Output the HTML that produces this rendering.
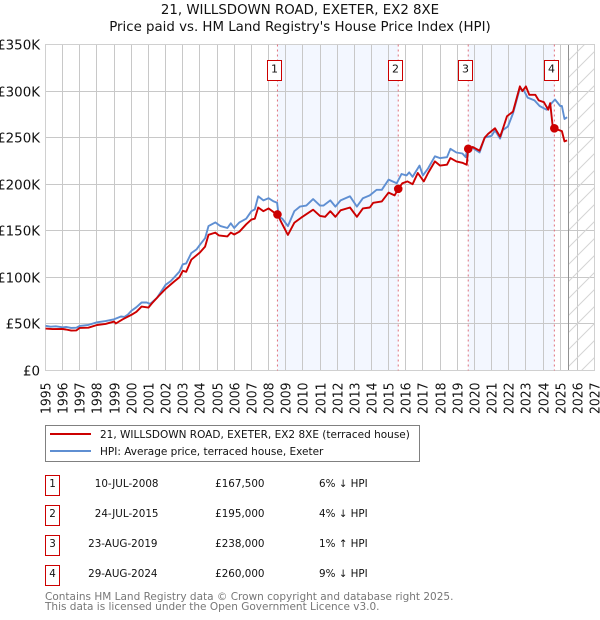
<!DOCTYPE html>
<html>
<head>
<meta charset="utf-8">
<style>
html,body{margin:0;padding:0;background:#fff;width:600px;height:620px;overflow:hidden}
svg{display:block;font-family:"DejaVu Sans","Liberation Sans",sans-serif}
</style>
</head>
<body>
<svg id="chart" width="600" height="620" viewBox="0 0 600 620" xmlns="http://www.w3.org/2000/svg">
<defs>
<pattern id="hatch" patternUnits="userSpaceOnUse" width="17" height="17">
<path d="M-1 18L18 -1M-1 1L1 -1M16 18L18 16" stroke="#d4d4d4" stroke-width="1" fill="none"/>
</pattern>
</defs>
<text x="300" y="14" text-anchor="middle" font-size="13.35" fill="#111">21, WILLSDOWN ROAD, EXETER, EX2 8XE</text>
<text x="300" y="31" text-anchor="middle" font-size="13.35" fill="#111">Price paid vs. HM Land Registry's House Price Index (HPI)</text>
<g id="bands"></g>
<g id="grid"></g>
<rect id="forecast" fill="url(#hatch)"></rect>
<line id="forecastEdge" stroke="#909090" stroke-width="1"></line>
<rect x="45.5" y="44.5" width="549" height="326" fill="none" stroke="#d0d0d0" stroke-width="1"></rect>
<g id="ticks"></g>
<g id="saleLines"></g>
<path id="hpiLine" fill="none" stroke="#5f8fd2" stroke-width="1.9" stroke-linejoin="round"></path>
<path id="priceLine" fill="none" stroke="#cc0000" stroke-width="1.9" stroke-linejoin="round"></path>
<g id="saleDots"></g>
<g id="saleBoxes"></g>

<g>
<rect x="45.5" y="425.5" width="374" height="36" fill="#fff" stroke="#808080" stroke-width="1"></rect>
<line x1="50" x2="91" y1="434" y2="434" stroke="#cc0000" stroke-width="2"></line>
<text x="100" y="438" font-size="10.5" fill="#111">21, WILLSDOWN ROAD, EXETER, EX2 8XE (terraced house)</text>
<line x1="50" x2="91" y1="451" y2="451" stroke="#5f8fd2" stroke-width="2"></line>
<text x="100" y="455" font-size="10.5" fill="#111">HPI: Average price, terraced house, Exeter</text>
</g>

<g font-size="10.35" fill="#111">
<g>
<rect x="45.5" y="475.5" width="14" height="20" fill="#fff" stroke="#cc0000" stroke-width="1"></rect>
<text x="52.5" y="487" text-anchor="middle">1</text>
<text x="158.5" y="487" text-anchor="end">10-JUL-2008</text>
<text x="264.5" y="487" text-anchor="end">£167,500</text>
<text x="319" y="487">6% ↓ HPI</text>
</g>
<g>
<rect x="45.5" y="505.5" width="14" height="20" fill="#fff" stroke="#cc0000" stroke-width="1"></rect>
<text x="52.5" y="517" text-anchor="middle">2</text>
<text x="158.5" y="517" text-anchor="end">24-JUL-2015</text>
<text x="264.5" y="517" text-anchor="end">£195,000</text>
<text x="319" y="517">4% ↓ HPI</text>
</g>
<g>
<rect x="45.5" y="535.5" width="14" height="20" fill="#fff" stroke="#cc0000" stroke-width="1"></rect>
<text x="52.5" y="547" text-anchor="middle">3</text>
<text x="157.5" y="547" text-anchor="end">23-AUG-2019</text>
<text x="264.5" y="547" text-anchor="end">£238,000</text>
<text x="319" y="547">1% ↑ HPI</text>
</g>
<g>
<rect x="45.5" y="565.5" width="14" height="20" fill="#fff" stroke="#cc0000" stroke-width="1"></rect>
<text x="52.5" y="577" text-anchor="middle">4</text>
<text x="157.5" y="577" text-anchor="end">29-AUG-2024</text>
<text x="264.5" y="577" text-anchor="end">£260,000</text>
<text x="319" y="577">9% ↓ HPI</text>
</g>
</g>

<text x="45" y="600" font-size="10.5" fill="#777">Contains HM Land Registry data © Crown copyright and database right 2025.</text>
<text x="45" y="610" font-size="10.5" fill="#777">This data is licensed under the Open Government Licence v3.0.</text>
</svg>

<script>
const yearTicks = [1995,1996,1997,1998,1999,2000,2001,2002,2003,2004,2005,2006,2007,2008,2009,2010,2011,2012,2013,2014,2015,2016,2017,2018,2019,2020,2021,2022,2023,2024,2025,2026,2027];
const valueTicks = [0,50,100,150,200,250,300,350];
const valueTickLabels = ['£0','£50K','£100K','£150K','£200K','£250K','£300K','£350K'];

const hpiDates = [1995,1995.3,1995.6,1996,1996.2,1996.5,1996.8,1997,1997.5,1998,1998.5,1999,1999.4,1999.6,1999.8,2000,2000.3,2000.6,2000.9,2001.1,2001.5,2002,2002.3,2002.5,2002.8,2003,2003.2,2003.5,2003.8,2004,2004.3,2004.5,2004.9,2005.2,2005.6,2005.8,2006,2006.3,2006.7,2007,2007.2,2007.4,2007.7,2008,2008.3,2008.5,2008.6,2008.8,2009.13,2009.5,2009.83,2010.2,2010.6,2011,2011.2,2011.6,2011.9,2012.2,2012.75,2013.15,2013.5,2013.9,2014.3,2014.6,2015,2015.47,2015.75,2016.05,2016.2,2016.4,2016.8,2017,2017.3,2017.7,2018,2018.4,2018.6,2018.95,2019.3,2019.5,2019.6,2019.9,2020.3,2020.6,2021,2021.2,2021.5,2021.65,2021.95,2022.25,2022.65,2022.9,2023.1,2023.5,2023.8,2024.2,2024.4,2024.7,2025,2025.1,2025.25,2025.4];
const hpiValues = [48,47,47.5,46.4,46.8,45.7,46,47.9,49,51.8,53,55,58,57.5,60,64,68,73,73,71.5,78,92,96,100,106,114,115,126,130,135,142,155,159,155,153,158,153,159,163,171,173,187,182.6,185,181.5,180,165,163,155,171,176,177,184,177,177,182.6,176,182.6,187,176,185,188,194,194,205,201,211,209.5,212.7,208,220,209.5,217,230,228,229,238,234,233,229,240,239,234,250,252,258,249,258,262,276,303,300,293,290,284,280,285,291,284,284,270,272];

const priceDates = [1995,1995.4,1996,1996.2,1996.5,1996.8,1997,1997.5,1998,1998.5,1999,1999.1,1999.5,2000,2000.3,2000.6,2001,2001.2,2001.6,2002,2002.5,2002.8,2003,2003.2,2003.5,2004,2004.3,2004.5,2004.9,2005.1,2005.6,2005.8,2006,2006.3,2006.7,2007,2007.2,2007.4,2007.7,2008,2008.3,2008.52,2008.76,2009.13,2009.5,2009.9,2010.6,2011,2011.3,2011.6,2011.9,2012.2,2012.75,2013.15,2013.5,2013.9,2014.1,2014.6,2015,2015.35,2015.56,2015.8,2016.1,2016.4,2016.7,2017.05,2017.3,2017.7,2018,2018.4,2018.6,2018.95,2019.3,2019.55,2019.64,2019.9,2020.3,2020.6,2020.8,2021.2,2021.5,2021.65,2021.9,2022.25,2022.65,2022.8,2023,2023.2,2023.55,2023.75,2024.05,2024.3,2024.42,2024.55,2024.66,2024.95,2025.1,2025.25,2025.4];
const priceValues = [45,44.5,44.6,44,42.8,43,45.7,46,48.9,50,52.5,50.5,55,59.7,63,68.6,67.5,72,80,87.6,95.5,100,107,106,119,126.7,133,145.7,148,145,144,148,146,149,157,162,163,175,171,174,170,167.5,158.6,145.6,158.6,164,172.6,166,165,171,165,172,175,165,174,175,180,181.5,191,188,195,201,203,200,212,203,212,224.5,220,221,228,224.5,223,221,238,240,236,250,254,260,251,259,273,278,305,300,305,296,296,290,288,280,287,264,260,258,257,246,247];

const saleDates = [2008.52,2015.56,2019.64,2024.66];
const salePrices = [167.5,195,238,260];
const saleNumbers = ['1','2','3','4'];
const forecastStart = 2025.48;

const svgNS = 'http://www.w3.org/2000/svg';
function xScale(year){ return 45.5 + (year - 1995) * (549 / 32); }
function yScale(k){ return 370.5 - k * (326 / 350); }
function snap(v){ return Math.round(v - 0.5) + 0.5; }
function make(tag, parent, attrs){
  const el = document.createElementNS(svgNS, tag);
  for (const k in attrs) el.setAttribute(k, attrs[k]);
  document.getElementById(parent).appendChild(el);
  return el;
}
function linePath(dates, values){
  return dates.map((d, i) => (i ? 'L' : 'M') + xScale(d).toFixed(1) + ' ' + yScale(values[i]).toFixed(1)).join('');
}

// shaded ownership periods
for (let i = 0; i < saleDates.length; i += 2) {
  const band = make('rect', 'bands', {x: xScale(saleDates[i]), y: 44.5, width: xScale(saleDates[i + 1]) - xScale(saleDates[i]), height: 326, fill: '#f3f7ff'});
  
  
}

// grid and tick labels
yearTicks.forEach(year => {
  const x = snap(xScale(year));
  const gl = make('line', 'grid', {x1: x, x2: x, y1: 44.5, y2: 370.5, stroke: '#c8c8c8', 'stroke-width': 1});
  
  
  const t = make('text', 'ticks', {transform: 'translate(' + (x + 5) + ',382.5) rotate(-90)', 'text-anchor': 'end', 'font-size': 13.4, textLength: 31.5, lengthAdjust: 'spacingAndGlyphs', fill: '#111'});
  t.textContent = year;
  
  
});
valueTicks.forEach((v, i) => {
  const y = snap(yScale(v));
  const gl = make('line', 'grid', {x1: 45.5, x2: 594.5, y1: y, y2: y, stroke: '#c8c8c8', 'stroke-width': 1});
  
  
  const t = make('text', 'ticks', {x: 40, y: y + 5, 'text-anchor': 'end', 'font-size': 13.4, fill: '#111'});
  t.textContent = valueTickLabels[i];
  
  
});

// forecast region
const fx = snap(xScale(forecastStart));
const fr = document.getElementById('forecast');
fr.setAttribute('x', fx);
fr.setAttribute('y', 44.5);
fr.setAttribute('width', 594.5 - fx);
fr.setAttribute('height', 326);
const fe = document.getElementById('forecastEdge');
fe.setAttribute('x1', fx);
fe.setAttribute('x2', fx);
fe.setAttribute('y1', 44.5);
fe.setAttribute('y2', 370.5);

// series
document.getElementById('hpiLine').setAttribute('d', linePath(hpiDates, hpiValues));
document.getElementById('priceLine').setAttribute('d', linePath(priceDates, priceValues));

// sale markers
saleDates.forEach((d, i) => {
  const x = xScale(d);
  const ln = make('line', 'saleLines', {x1: x, x2: x, y1: 44.5, y2: 370.5, stroke: '#e0707c', 'stroke-width': 1, 'stroke-dasharray': '2 3'});
  
  
  const dot = make('circle', 'saleDots', {cx: x, cy: yScale(salePrices[i]), r: 4.3, fill: '#cc0000'});
  
  
  const box = make('rect', 'saleBoxes', {x: snap(x - 10), y: 60.5, width: 14, height: 20, fill: '#fff', stroke: '#cc0000', 'stroke-width': 1});
  
  
  const lbl = make('text', 'saleBoxes', {x: snap(x - 10) + 7, y: 72.5, 'text-anchor': 'middle', 'font-size': 11, fill: '#111'});
  lbl.textContent = saleNumbers[i];
  
  
});
</script>
</body>
</html>
